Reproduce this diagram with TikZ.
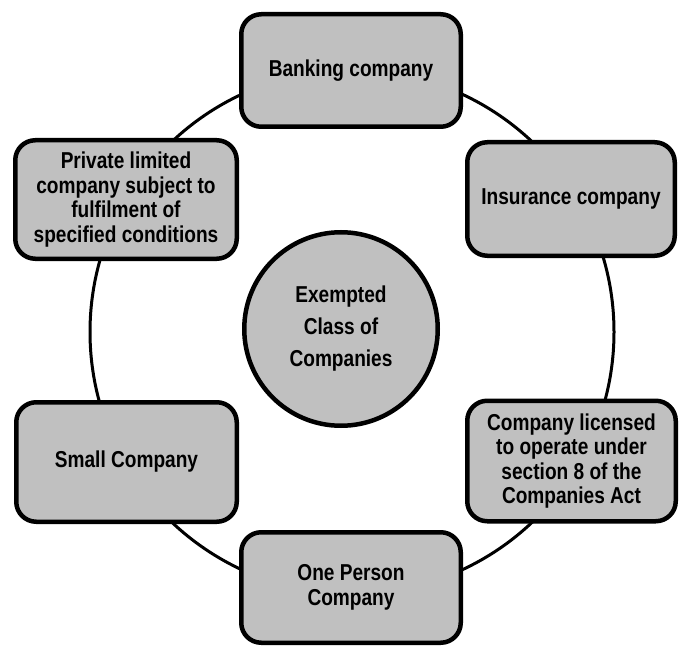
\documentclass[tikz,border=0pt]{standalone}
\usepackage{fontspec}
\setmainfont{Liberation Sans}[FakeStretch=0.83]
\definecolor{boxgray}{RGB}{192,192,192}
\begin{document}
\begin{tikzpicture}[x=1pt,y=-1pt,
  box/.style={draw=black, line width=4.5pt, fill=boxgray, rounded corners=20pt,
    align=center, inner sep=0pt, font=\bfseries\fontsize{23}{24.5}\selectfont},
  hub/.style={circle, draw=black, line width=4.5pt, fill=boxgray, inner sep=0pt,
    align=center, font=\bfseries\fontsize{23}{32}\selectfont},
  ringstyle/.style={circle, draw=black, line width=3pt, inner sep=0pt}
]
\useasboundingbox (0,0) rectangle (680,647);
\node[ringstyle, minimum size=524pt] (ring) at (352,332) {};
\node[box, minimum width=219.5pt, minimum height=112.5pt] (bank) at (351,70.5) {Banking company};
\node[box, minimum width=207.5pt, minimum height=113.5pt] (ins) at (571,199) {Insurance company};
\node[box, minimum width=221.5pt, minimum height=118.5pt] (priv) at (126,199.5) {Private limited\\company subject to\\fulfilment of\\specified conditions};
\node[box, minimum width=208.5pt, minimum height=120.5pt] (sec8) at (571.5,461) {Company licensed\\to operate under\\section 8 of the\\Companies Act};
\node[box, minimum width=220.5pt, minimum height=119.5pt] (small) at (126.5,462) {Small Company};
\node[box, minimum width=219.5pt, minimum height=110.5pt] (opc) at (351,587.5) {One Person\\Company};
\node[hub, minimum size=193.5pt] (hubc) at (341,329) {Exempted\\Class of\\Companies};
\end{tikzpicture}
\end{document}
